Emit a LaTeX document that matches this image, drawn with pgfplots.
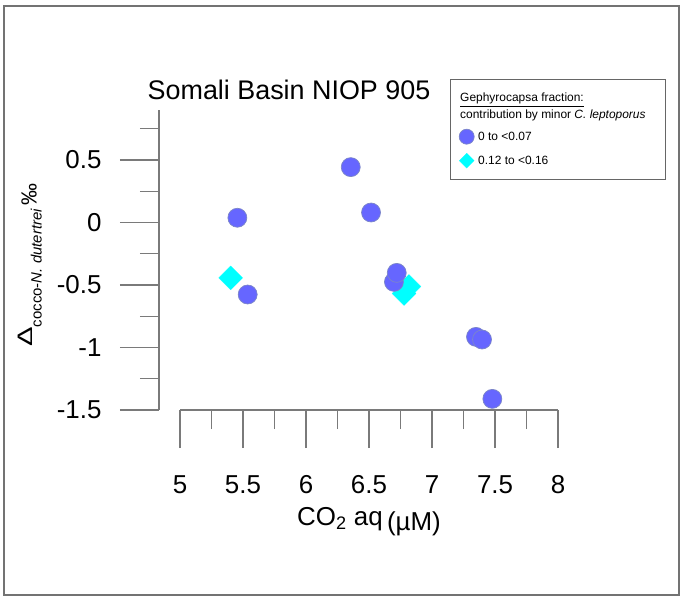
\documentclass[border=0pt]{standalone}
\usepackage{fontspec}
\setmainfont{Liberation Sans}
\usepackage{pgfplots}
\pgfplotsset{compat=1.18}
\definecolor{dotblue}{HTML}{6666FF}
\definecolor{dotedge}{HTML}{7C86C8}
\definecolor{diacyan}{HTML}{00FFFF}
\definecolor{axisgray}{HTML}{7A7A7A}

\begin{document}
\begin{tikzpicture}
\useasboundingbox (-159bp,-186bp) rectangle (521bp,410bp);
\draw[black!55, line width=2bp] (-155bp,-185bp) rectangle (520bp,404bp);

% y axis with the data
\begin{axis}[
  scale only axis,
  width=399bp, height=300bp,
  at={(0bp,0bp)}, anchor=south west,
  xmin=4.833, xmax=8, ymin=-1.5, ymax=0.9,
  axis x line=none, axis y line=left,
  axis line style={-, draw=axisgray, line width=1.2bp},
  ytick={-1.5,-1,-0.5,0,0.5},
  yticklabels={-1.5,-1,-0.5,0,0.5},
  minor ytick={-1.25,-0.75,-0.25,0.25,0.75},
  tick align=outside,
  major tick length=39bp, minor tick length=19bp,
  tick style={draw=axisgray, line width=1.2bp},
  yticklabel style={font=\fontsize{26}{28}\selectfont, xshift=-15bp},
  clip=false,
  reverse legend,
  legend cell align=left,
  legend style={at={(axis description cs:0.7524,0.936)}, anchor=north west,
    draw=none, fill=none, inner sep=0pt, outer sep=0pt,
    row sep=9bp, column sep=4bp,
    font=\fontsize{12}{14}\selectfont,
    nodes={inner sep=0pt}},
]
\addplot[only marks, mark=square*, mark size=8.5bp,
  mark options={rotate=45, fill=diacyan, draw=diacyan, line width=0.1bp},
  legend image post style={mark size=5.3bp}]
  coordinates {(5.402,-0.443) (6.778,-0.568) (6.817,-0.512)};
\addlegendentry{0.12 to <0.16}
\addplot[only marks, mark=*, mark size=9.5bp,
  mark options={fill=dotblue, draw=dotedge, line width=0.7bp},
  legend image post style={mark size=7.5bp}]
  coordinates {(5.455,0.038) (6.355,0.443) (6.516,0.080) (5.537,-0.576)
    (6.698,-0.475) (6.720,-0.403) (7.349,-0.915) (7.397,-0.936) (7.479,-1.411)};
\addlegendentry{0 to <0.07}
\end{axis}

% detached x axis
\begin{axis}[
  scale only axis,
  width=378bp, height=10bp,
  at={(21bp,0bp)}, anchor=south west,
  xmin=5, xmax=8, ymin=0, ymax=1,
  axis y line=none, axis x line=bottom,
  axis line style={-, draw=axisgray, line width=1.2bp},
  xtick={5,5.5,6,6.5,7,7.5,8},
  xticklabels={5,5.5,6,6.5,7,7.5,8},
  minor x tick num=1,
  tick align=outside,
  major tick length=38bp, minor tick length=19bp,
  tick style={draw=axisgray, line width=1.2bp},
  xticklabel style={font=\fontsize{26}{28}\selectfont, yshift=-24bp},
  xlabel={CO\textsubscript{2} aq\,\raisebox{-5bp}{(µM)}},
  xlabel style={font=\fontsize{26}{29}\selectfont, at={(axis description cs:0.5,0)}, anchor=base, yshift=-115bp},
]
\end{axis}

\node[anchor=base, font=\fontsize{27}{30}\selectfont] at (130bp,310bp) {Somali Basin NIOP 905};

\draw[black!60, line width=1bp] (291bp,230bp) rectangle (506bp,330bp);
\node[anchor=base west, inner sep=0pt, font=\fontsize{12}{14}\selectfont] at (301bp,308bp) {\underline{Gephyrocapsa fraction:}};
\node[anchor=base west, inner sep=0pt, font=\fontsize{12}{14}\selectfont] at (301bp,291.5bp) {contribution by minor \textit{C. leptoporus}};

\node[rotate=90, inner sep=0pt] at (-129bp,145bp)
  {\fontsize{21}{24}\selectfont\scalebox{1.4}[1]{Δ}\raisebox{-9bp}{\fontsize{15}{17}\selectfont cocco-\textit{N. dutertrei}}\,\raisebox{-4bp}{\fontsize{22}{24}\selectfont ‰}};
\end{tikzpicture}
\end{document}
